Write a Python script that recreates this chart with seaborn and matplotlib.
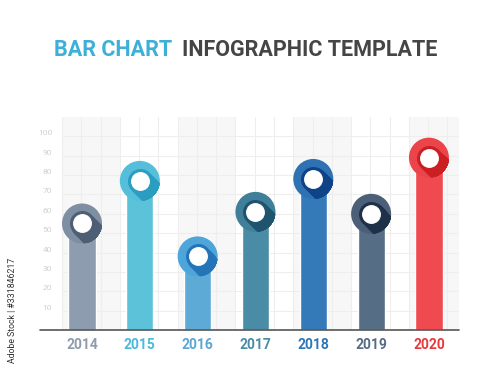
import matplotlib
matplotlib.use("Agg")
import matplotlib.pyplot as plt
import matplotlib.transforms as mtransforms
from matplotlib.patches import Circle
import numpy as np
import pandas as pd
import seaborn as sns

# chart data
years = ["2014", "2015", "2016", "2017", "2018", "2019", "2020"]
values = [55, 77, 38, 61, 78, 60, 89]
y_ticks = [10, 20, 30, 40, 50, 60, 70, 80, 90, 100]

bar_colors = ["#8D9CAE", "#5BC2DA", "#5EAAD6", "#4A8CA6", "#347AB8", "#566D86", "#EE4A4F"]
ring_colors = ["#7F8FA2", "#55BEDA", "#4EA5DA", "#3F7F9A", "#2E72B3", "#4B5F79", "#EB444A"]
dark_colors = ["#4E5F75", "#2A9DC0", "#2474B8", "#1F536E", "#0E4388", "#1F3049", "#CB1F22"]
label_colors = ["#8D9CAE", "#4CB9D9", "#5AA6D6", "#4A8CA6", "#2F76B8", "#566B84", "#E8393E"]

sns.set_theme(style="white")
plt.rcParams["font.family"] = ["Roboto", "DejaVu Sans"]

df = pd.DataFrame({"year": years, "value": values})
df["pos"] = np.arange(len(years))

fig = plt.figure(figsize=(5, 3.7), dpi=100)
ax = fig.add_axes([0.124, 0.1081, 0.794, 0.5757])

# background: alternating light columns + square grid
x0, x1 = -0.346, 6.52
for k in range(4):
    left = x0 + 2 * k
    ax.axvspan(left, min(left + 1, x1), color="#F7F7F7", zorder=0, lw=0)

sns.barplot(data=df, x="year", y="value", hue="year", palette=bar_colors,
            width=0.47, legend=False, ax=ax, zorder=2, saturation=1)

# outer rings on top of the bars
sns.scatterplot(data=df, x="pos", y="value", hue="year", palette=ring_colors,
                s=830, linewidth=0, ax=ax, zorder=3, legend=False)

ax.set_xlim(x0, x1)
ax.set_ylim(0, 110)

# dark inner ring with a long shadow, kept inside the outer ring
for i, row in df.iterrows():
    xv, yv = row["pos"], row["value"]
    clip = Circle((0, 0), 0.2, transform=fig.dpi_scale_trans +
                  mtransforms.ScaledTranslation(xv, yv, ax.transData))
    for d in np.linspace(0, 22, 16):
        tr = mtransforms.offset_copy(ax.transData, fig=fig, x=d, y=-d, units="dots")
        sc = ax.scatter([xv], [yv], s=324, c=dark_colors[i], linewidths=0,
                        transform=tr, zorder=4)
        sc.set_clip_path(clip)

ax.scatter(df["pos"], df["value"], s=185, c="white", linewidths=0, zorder=5)

ax.set_yticks(y_ticks)
ax.set_xticks(np.arange(x0, x1, 1 / 3), minor=True)
ax.grid(axis="y", which="major", color="#EEEEEE", lw=0.8, zorder=1)
ax.grid(axis="x", which="minor", color="#EEEEEE", lw=0.8, zorder=1)
ax.grid(axis="x", which="major", visible=False)
ax.set_axisbelow(True)

ax.tick_params(axis="y", length=0, pad=7, labelsize=6, labelcolor="#D0D0D0")
for t in ax.get_yticklabels():
    t.set_va("bottom")
ax.tick_params(axis="x", which="both", length=0, pad=6)
ax.set_xticks(df["pos"])
ax.set_xticklabels(years, fontsize=10, fontweight="bold")
for t, c in zip(ax.get_xticklabels(), label_colors):
    t.set_color(c)

ax.set_xlabel("")
ax.set_ylabel("")
for s in ax.spines.values():
    s.set_visible(False)
ax.axhline(0, xmin=-0.055, xmax=1, color="#555555", lw=1.2, clip_on=False, zorder=6)

# title in two colours
fig.text(0.344, 0.865, "BAR CHART", ha="right", va="center", fontsize=15.5,
         fontweight="bold", color="#3DB0D8")
fig.text(0.364, 0.865, "INFOGRAPHIC TEMPLATE", ha="left", va="center", fontsize=15.5,
         fontweight="bold", color="#454545")

fig.text(0.025, 0.16, "Adobe Stock | #331846217", rotation=90, ha="center", va="center",
         fontsize=6.3, color="#333333")

fig.savefig("out.png", dpi=100)
